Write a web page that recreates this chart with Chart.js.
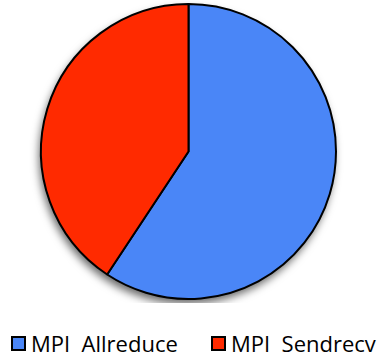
<!DOCTYPE html>
<html>
<head>
<meta charset="utf-8">
<script src="https://cdn.jsdelivr.net/npm/chart.js@4"></script>
<style>
  html, body { margin: 0; padding: 0; background: #fff; overflow: hidden; }
  #wrap { position: relative; width: 377px; height: 355px; overflow: hidden; }
  #c { position: absolute; left: 0; top: 0; }
  #legend {
    position: absolute; left: 11px; top: 333px; height: 21px;
    display: flex; align-items: center;
    font-family: "Open Sans", sans-serif; font-size: 22px; line-height: 21px; color: #000;
  }
  #legend .item { display: flex; align-items: center; white-space: pre; }
  #legend .item:first-child { width: 200px; }
  #legend .box { box-sizing: border-box; width: 15px; height: 15px; border: 2px solid #000; margin-right: 5px; }
</style>
</head>
<body>
<div id="wrap">
  <canvas id="c" width="377" height="303"></canvas>
  <div id="legend"></div>
</div>
<script>
const categories = ['MPI  Allreduce', 'MPI  Sendrecv'];
const shares = [59.3, 40.7];
const sliceColors = ['#4a86f7', '#ff2a00'];

// Soft drop shadow under the whole pie, drawn once before the slices
const pieShadow = {
  id: 'pieShadow',
  beforeDatasetsDraw(chart) {
    const arc = chart.getDatasetMeta(0).data[0];
    if (!arc) return;
    const ctx = chart.ctx;
    ctx.save();
    ctx.shadowColor = 'rgba(0,0,0,0.6)';
    ctx.shadowBlur = 8;
    ctx.shadowOffsetX = -2;
    ctx.shadowOffsetY = 5;
    ctx.fillStyle = '#ffffff';
    ctx.beginPath();
    ctx.arc(arc.x, arc.y, arc.outerRadius, 0, Math.PI * 2);
    ctx.fill();
    ctx.restore();
  }
};

// Legend rendered as HTML from the chart's own legend items
const htmlLegend = {
  id: 'htmlLegend',
  afterUpdate(chart) {
    const host = document.getElementById('legend');
    host.innerHTML = '';
    const items = chart.options.plugins.legend.labels.generateLabels(chart);
    items.forEach(it => {
      const row = document.createElement('div');
      row.className = 'item';
      const box = document.createElement('span');
      box.className = 'box';
      box.style.background = it.fillStyle;
      const txt = document.createElement('span');
      txt.textContent = it.text;
      row.appendChild(box);
      row.appendChild(txt);
      host.appendChild(row);
    });
  }
};

new Chart(document.getElementById('c'), {
  type: 'pie',
  data: {
    labels: categories,
    datasets: [{
      data: shares,
      backgroundColor: sliceColors,
      borderColor: '#000000',
      borderWidth: 2
    }]
  },
  options: {
    responsive: false,
    animation: false,
    layout: { padding: { top: 3, bottom: 3, left: 0, right: 0 } },
    plugins: {
      tooltip: { enabled: false },
      legend: { display: false }
    }
  },
  plugins: [pieShadow, htmlLegend]
});
</script>
</body>
</html>
